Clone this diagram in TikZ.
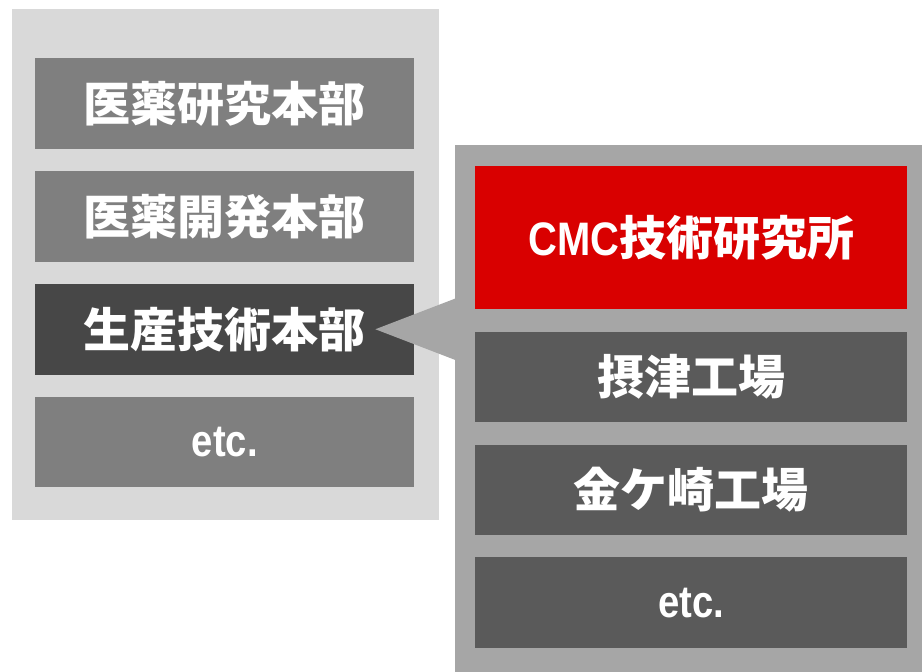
\documentclass[tikz,border=0pt]{standalone}
\usepackage{xcolor}
\usepackage{fontspec}
\usetikzlibrary{positioning}
\newfontfamily\cjk{Noto Sans CJK JP}
\newfontfamily\narrow{Liberation Sans}[FakeStretch=0.85]
\definecolor{panelL}{HTML}{D9D9D9}
\definecolor{panelR}{HTML}{A6A6A6}
\definecolor{boxL}{HTML}{7F7F7F}
\definecolor{boxDark}{HTML}{474747}
\definecolor{boxR}{HTML}{5A5A5A}
\definecolor{cmcRed}{HTML}{D90000}

\begin{document}
\begin{tikzpicture}[x=1pt, y=-1pt,
    panel/.style={rectangle, inner sep=0pt, anchor=north west},
    unit/.style={rectangle, inner sep=0pt, text=white,
        font=\cjk\bfseries\fontsize{47}{50}\selectfont},
    lunit/.style={unit, fill=boxL, minimum width=379pt, minimum height=90.5pt},
    runit/.style={unit, fill=boxR, minimum width=432pt, minimum height=90.5pt},
    etctext/.style={font=\narrow\bfseries\fontsize{45}{50}\selectfont}]
    \useasboundingbox (0,0) rectangle (922,672);

    % background panels
    \node[panel, fill=panelL, minimum width=427pt, minimum height=511pt] (lpanel) at (12,9) {};
    \node[panel, fill=panelR, minimum width=467pt, minimum height=527pt] (rpanel) at (455,145) {};

    % left column
    \node[lunit, anchor=north west] (yakken) at (35,58) {医薬研究本部};
    \node[lunit, below=22pt of yakken] (yakkai) {医薬開発本部};
    \node[lunit, fill=boxDark, below=22pt of yakkai] (seigi) {生産技術本部};
    \node[lunit, etctext, below=22pt of seigi] (letc) {etc.};

    % pointer
    \coordinate (tip) at ([xshift=-39pt]seigi.east);
    \path (rpanel.west |- tip) coordinate (base);
    \fill[panelR] (tip) -- ([xshift=1pt, yshift=31pt]base) -- ([xshift=1pt, yshift=-31pt]base) -- cycle;

    % right column
    \node[runit, fill=cmcRed, minimum height=143pt, anchor=north west] (cmc) at (475,166) {{\narrow CMC}技術研究所};
    \node[runit, below=22pt of cmc] (settsu) {摂津工場};
    \node[runit, below=22pt of settsu] (kanega) {金ケ崎工場};
    \node[runit, etctext, below=22pt of kanega] (retc) {etc.};
\end{tikzpicture}
\end{document}
